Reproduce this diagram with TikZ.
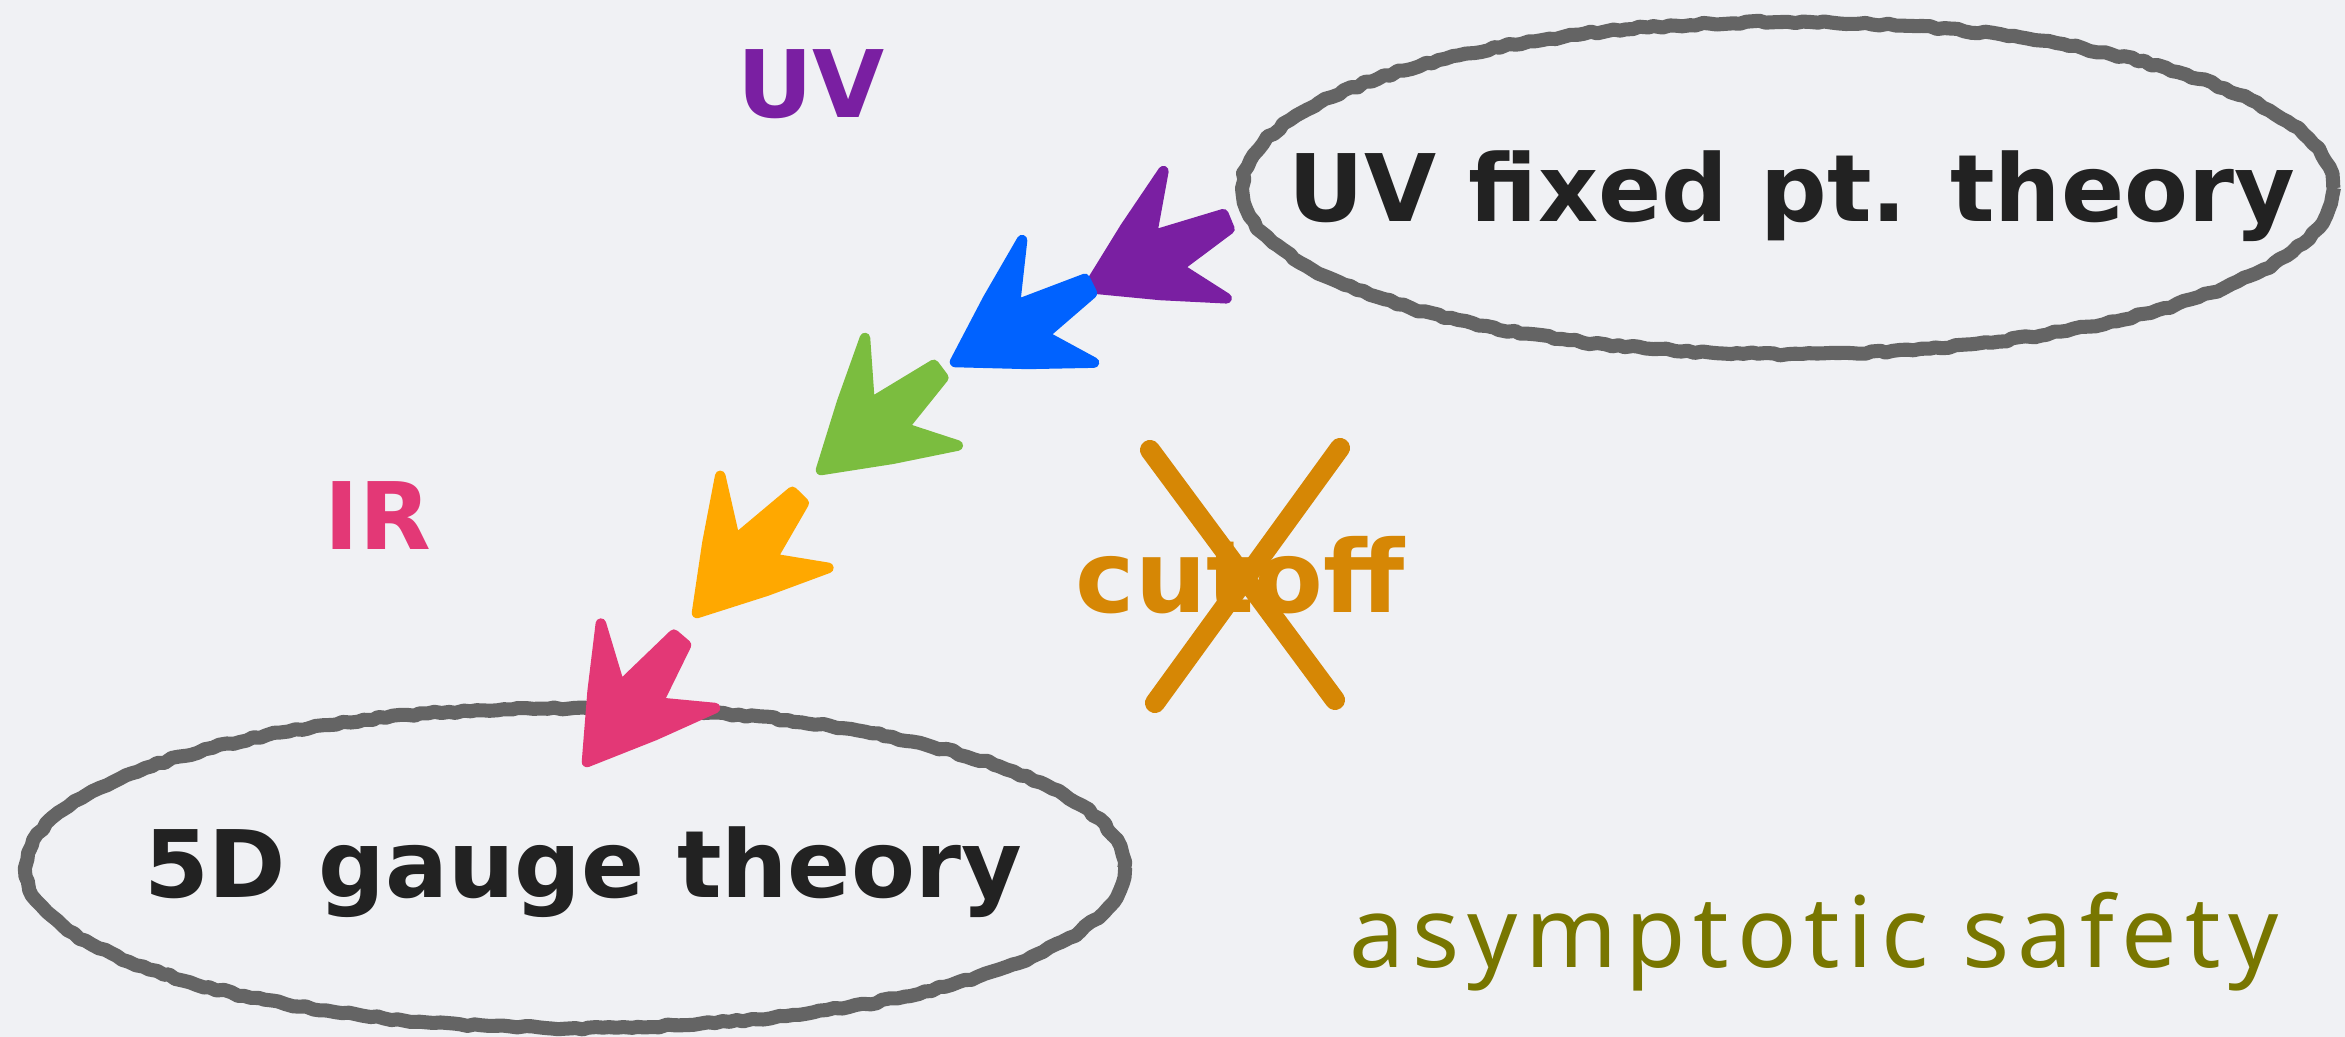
\documentclass[tikz,border=0pt]{standalone}
\usepackage{fontspec}
\setmainfont{DejaVu Sans}
\newfontfamily\handfont[LetterSpace=8]{Noto Sans}
\usetikzlibrary{shapes.geometric,decorations.pathmorphing}
\definecolor{uvpurple}{RGB}{122,31,162}
\definecolor{flowblue}{RGB}{0,98,255}
\definecolor{flowgreen}{RGB}{123,189,63}
\definecolor{floworange}{RGB}{255,168,0}
\definecolor{irpink}{RGB}{227,56,118}
\definecolor{cutorange}{RGB}{214,135,5}
\definecolor{chalkgrey}{RGB}{100,100,100}
\definecolor{textblack}{RGB}{34,34,34}
\definecolor{safetyolive}{RGB}{120,118,0}
\definecolor{slidebg}{RGB}{240,241,244}
\tikzset{
  chalk/.style={decorate, decoration={random steps, segment length=2pt, amplitude=0.4pt}},
  ring/.style={ellipse, draw=chalkgrey, line width=4pt, line join=round, chalk, inner sep=0pt},
  bigword/.style={font=\fontsize{26.5}{30}\selectfont\bfseries},
  chalkarrow/.pic={
    \filldraw[#1, line width=3pt, line join=round] (0,0) -- (60,38) -- (119,72) -- (80,19) -- (154,7)
      -- (153,-9) -- (90,-21) -- (120,-70) -- (62,-38) -- cycle;
  }
}

\begin{document}
\begin{tikzpicture}[x=0.01cm, y=0.01cm]
  \fill[slidebg] (0,0) rectangle (2345,1037);
  \useasboundingbox (0,0) rectangle (2345,1037);
  \pgfmathsetseed{7}

  \node[ring, minimum width=10.9cm, minimum height=3.32cm] (uvring) at (1788,849) {};
  \node[ring, minimum width=10.98cm, minimum height=3.2cm] (irring) at (575,169) {};

  \node[bigword, text=textblack, anchor=base] (uvtheory) at (1792,815) {UV fixed pt. theory};
  \node[bigword, text=textblack, anchor=base] (irtheory) at (583,139) {5D gauge theory};
  \node[bigword, text=uvpurple, anchor=base] (uvlabel) at (811,919) {UV};
  \node[bigword, text=irpink, anchor=base] (irlabel) at (378,487) {IR};

  \pic[rotate=26] at (1088,749) {chalkarrow=uvpurple};
  \pic[rotate=30] at (955,675) {chalkarrow=flowblue};
  \pic[rotate=40.4] at (821,567) {chalkarrow=flowgreen};
  \pic[rotate=49.2] at (697,424) {chalkarrow=floworange};
  \pic[rotate=53.1] at (587,275) {chalkarrow=irpink};

  \node[font=\fontsize{28.5}{32}\selectfont\bfseries, text=cutorange, anchor=base] (cutoff) at (1240,424) {cutoff};
  \draw[cutorange, line width=5.7pt, line cap=round] (1150,587) -- (1335,337);
  \draw[cutorange, line width=5.7pt, line cap=round] (1340,589) -- (1155,334);

  \node[font=\fontsize{28}{32}\handfont, text=safetyolive, anchor=base] (safety) at (1814,69) {asymptotic safety};
\end{tikzpicture}
\end{document}
